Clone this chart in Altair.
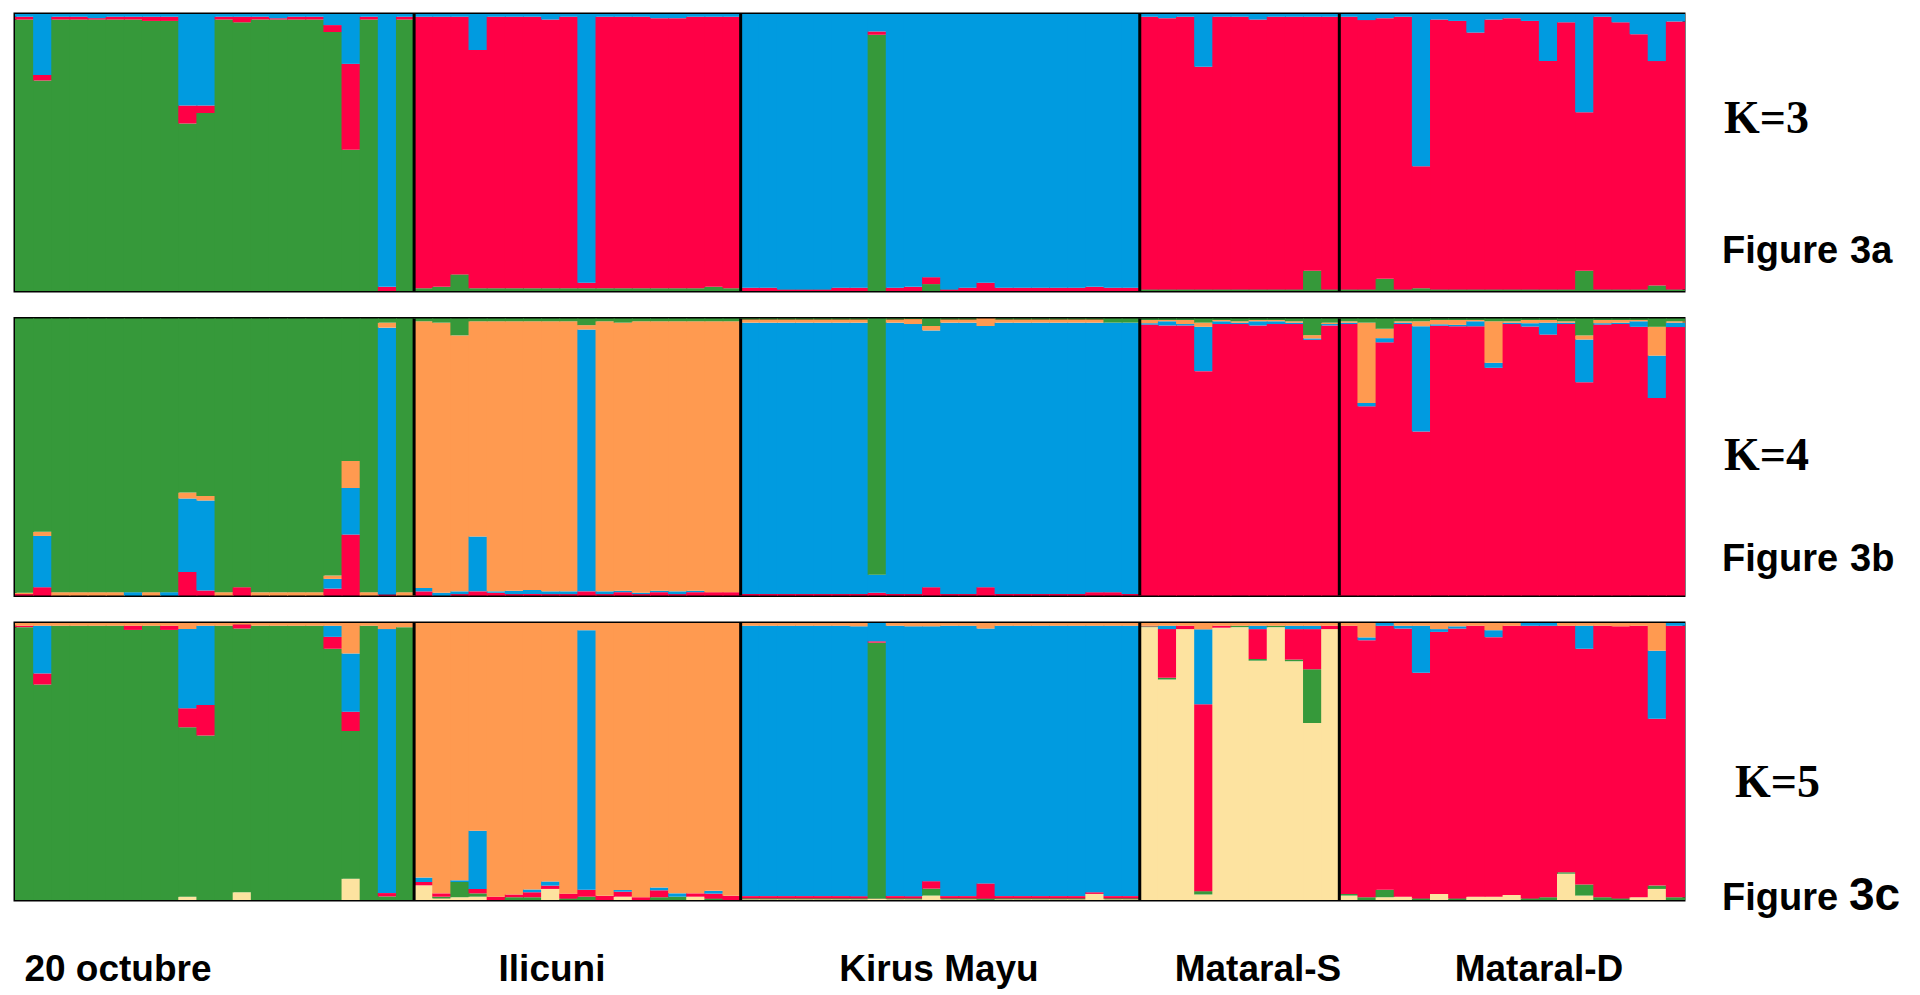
import altair as alt
import pandas as pd

# ---------------- data ----------------
POPULATIONS = ["20 octubre", "Ilicuni", "Kirus Mayu", "Mataral-S", "Mataral-D"]
POP_SIZES = [22, 18, 22, 11, 19]
K_LABELS = ["K=3", "K=4", "K=5"]
FIGURE_WORDS = ["Figure", "Figure", "Figure"]
FIGURE_TAGS = ["3a", "3b", "3c"]

# K = 3 (clusters listed bottom -> top)
K3_GREEN = [.98, .76, .98, .98, .98, .98, .98, .975, .975, .605, .643, .98, .97, .98, .98, .98, .98, .935, .51, .98, 0, .98,
            .01, .015, .06, .01, .01, .01, .01, .01, .01, .01, .01, .01, .01, .01, .01, .01, .015, .01,
            0, 0, 0, 0, 0, 0, 0, .925, 0, 0, .025, 0, 0, 0, 0, 0, 0, 0, 0, 0, 0, 0,
            .005, .005, .005, .005, .005, .005, .005, .005, .005, .073, .005,
            .005, .005, .044, .005, .01, .005, .005, .005, .005, .005, .005, .005, .005, .073, .005, .005, .005, .02, .005]
K3_RED = [.01, .02, .01, .01, .005, .01, .01, .015, .015, .065, .027, .01, .02, .01, .005, .01, .01, .025, .31, .01, .015, .01,
          .98, .975, .93, .86, .98, .98, .98, .97, .98, .02, .98, .98, .98, .975, .975, .98, .975, .98,
          .012, .012, .005, .005, .005, .012, .012, .012, .012, .015, .025, .005, .012, .03, .012, .012, .012, .012, .012, .015, .012, .012,
          .985, .98, .985, .805, .985, .985, .975, .985, .985, .917, .985,
          .985, .973, .941, .985, .44, .975, .97, .928, .975, .98, .97, .825, .965, .572, .985, .965, .922, .81, .968]
K3_BLUE = [.01, .22, .01, .01, .015, .01, .01, .01, .01, .33, .33, .01, .01, .01, .015, .01, .01, .04, .18, .01, .985, .01,
           .01, .01, .01, .13, .01, .01, .01, .02, .01, .97, .01, .01, .01, .015, .015, .01, .01, .01,
           .988, .988, .995, .995, .995, .988, .988, .063, .988, .985, .95, .995, .988, .97, .988, .988, .988, .988, .988, .985, .988, .988,
           .01, .015, .01, .19, .01, .01, .02, .01, .01, .01, .01,
           .01, .022, .015, .01, .55, .02, .025, .067, .02, .015, .025, .17, .03, .355, .01, .03, .073, .17, .027]

# K = 4
K4_RED = [.005, .03, 0, 0, 0, 0, 0, 0, 0, .085, .018, 0, .03, 0, 0, 0, 0, .025, .22, 0, .004, 0,
          .015, 0, .005, .015, .01, .005, .005, .005, .005, .015, .005, .012, .005, .012, .005, .012, .012, .012,
          .005, .005, .005, .005, .005, .005, .005, .01, .005, .005, .03, .005, .005, .03, .005, .005, .005, .005, .005, .012, .012, .005,
          .978, .975, .975, .81, .98, .98, .975, .98, .98, .923, .975,
          .98, .683, .914, .98, .592, .974, .972, .972, .822, .98, .971, .942, .98, .77, .978, .98, .97, .713, .969]
K4_BLUE = [0, .185, 0, 0, 0, 0, .012, 0, .012, .265, .325, 0, 0, 0, 0, 0, 0, .035, .168, 0, .963, 0,
           .012, .01, .01, .198, .005, .012, .015, .01, .01, .945, .01, .005, .005, .005, .01, .005, 0, 0,
           .98, .98, .98, .98, .98, .98, .98, .065, .98, .975, .927, .98, .98, .943, .98, .98, .98, .98, .98, .973, .973, .98,
           .005, .015, .005, .16, .01, .005, .015, .01, .005, .005, .005,
           .005, .012, .015, .005, .38, .005, .005, .018, .018, .005, .012, .043, .005, .154, .005, .005, .02, .153, .016]
K4_ORANGE = [.005, .015, .012, .012, .012, .012, 0, .012, 0, .022, .016, .012, 0, .012, .012, .012, .012, .012, .098, .012, .018, .012,
             .963, .975, .924, .777, .975, .973, .97, .975, .975, .016, .975, .968, .98, .973, .975, .973, .978, .978,
             .012, .012, .012, .012, .012, .012, .012, 0, .012, .018, .016, .012, .012, .027, .012, .012, .012, .012, .012, .012, 0, 0,
             .012, .005, .015, .015, .005, .005, .005, .005, .005, .012, .005,
             .005, .29, .034, .005, .018, .016, .018, .005, .15, .005, .012, .01, .005, .015, .012, .01, .005, .104, .005]
K4_GREEN = [.99, .77, .988, .988, .988, .988, .988, .988, .988, .628, .641, .988, .97, .988, .988, .988, .988, .928, .514, .988, .015, .988,
            .01, .015, .061, .01, .01, .01, .01, .01, .01, .024, .01, .015, .01, .01, .01, .01, .01, .01,
            .003, .003, .003, .003, .003, .003, .003, .925, .003, .002, .027, .003, .003, 0, .003, .003, .003, .003, .003, .003, .015, .015,
            .005, .005, .005, .015, .005, .01, .005, .005, .01, .06, .015,
            .01, .015, .037, .01, .01, .005, .005, .005, .01, .01, .005, .005, .01, .061, .005, .005, .005, .03, .01]

# K = 5
K5_YELLOW = [0, 0, 0, 0, 0, 0, 0, 0, 0, .012, 0, 0, .028, 0, 0, 0, 0, 0, .077, 0, 0, 0,
             .053, .006, .01, .012, 0, 0, 0, .04, 0, 0, 0, .012, 0, 0, 0, .012, 0, 0,
             .003, .003, .003, .003, .003, .003, .003, .005, .003, .003, .016, .003, .003, 0, .003, .003, .003, .003, .003, .022, .003, .003,
             .985, .796, .978, .02, .983, .985, .864, .985, .862, .639, .978,
             .016, 0, .01, .012, 0, .022, 0, .012, .012, .018, 0, 0, .095, .016, 0, 0, .01, .04, 0]
K5_GREEN = [.985, .778, .99, .99, .99, .99, .975, .99, .975, .612, .594, .99, .952, .99, .99, .99, .99, .907, .533, .99, .013, .985,
            0, .006, .055, .012, 0, .01, .01, 0, .005, .012, 0, 0, 0, .01, .012, 0, .005, 0,
            .003, .003, .003, .003, .003, .003, .003, .924, .003, .003, .025, .003, .003, .005, .003, .003, .003, .003, .003, 0, .003, .003,
            .003, .006, 0, .012, 0, .005, .006, .005, .006, .194, 0,
            .006, .01, .027, 0, .005, 0, .005, 0, 0, 0, .005, .01, .005, .04, .01, .005, 0, .012, .01]
K5_RED = [.005, .04, 0, 0, 0, 0, .015, 0, .015, .068, .11, 0, .015, 0, 0, 0, 0, .043, .07, 0, .012, 0,
          .012, .012, 0, .016, .012, .01, .018, .012, .018, .025, .015, .018, .01, .025, 0, .012, .018, .015,
          .008, .008, .008, .008, .008, .008, .008, .005, .008, .008, .027, .008, .008, .055, .008, .008, .008, .008, .008, .006, .008, .008,
          .002, .176, .012, .675, .007, 0, .108, 0, .11, .145, .012,
          .968, .928, .953, .968, .815, .946, .975, .978, .937, .972, .985, .98, .89, .851, .98, .983, .98, .602, .98]
K5_BLUE = [0, .172, 0, 0, 0, 0, 0, 0, 0, .286, .286, 0, 0, 0, 0, 0, 0, .04, .21, 0, .953, 0,
           .016, 0, .006, .21, 0, 0, .01, .015, 0, .937, 0, .006, 0, .01, .012, 0, .01, 0,
           .976, .976, .976, .976, .976, .976, .976, .066, .976, .976, .92, .976, .976, .92, .976, .976, .976, .976, .976, .962, .976, .976,
           0, .012, 0, .27, 0, 0, .012, 0, .012, .012, 0,
           0, .01, .01, .01, .17, .01, .008, 0, .025, 0, .01, .01, 0, .083, 0, 0, 0, .246, .01]
K5_ORANGE = [.01, .01, .01, .01, .01, .01, .01, .01, .01, .022, .01, .01, .005, .01, .01, .01, .01, .01, .11, .01, .022, .015,
             .919, .976, .929, .75, .988, .98, .962, .933, .977, .026, .985, .964, .99, .955, .976, .976, .967, .985,
             .01, .01, .01, .01, .01, .01, .012, 0, .01, .012, .012, .01, .01, .02, .01, .01, .01, .01, .01, .01, .01, .01,
             .01, .01, .01, .023, .01, .01, .01, .01, .01, .01, .01,
             .01, .052, 0, .01, .01, .022, .012, .01, .026, .01, 0, 0, .01, .01, .01, .012, .01, .1, 0]

PANELS = [
    [("green", K3_GREEN), ("red", K3_RED), ("blue", K3_BLUE)],
    [("red", K4_RED), ("blue", K4_BLUE), ("orange", K4_ORANGE), ("green", K4_GREEN)],
    [("yellow", K5_YELLOW), ("green", K5_GREEN), ("red", K5_RED), ("blue", K5_BLUE), ("orange", K5_ORANGE)],
]

# ---------------- styles ----------------
COLORS = {"green": "#36993a", "red": "#ff0046", "blue": "#009be0",
          "orange": "#ff9a50", "yellow": "#fde3a0"}
W, H = 1669, 277
N = sum(POP_SIZES)
for panel in PANELS:
    for _, vals in panel:
        assert len(vals) == N, len(vals)

boundaries = []
acc = 0
for s in POP_SIZES[:-1]:
    acc += s
    boundaries.append(acc)


def panel_table(panel):
    rows = []
    for i in range(N):
        total = sum(v[i] for _, v in panel)
        y = 0.0
        for name, vals in panel:
            q = vals[i] / total
            if q > 0:
                rows.append({"ind": i, "ind1": i + 1, "cluster": name, "y0": y, "y1": y + q})
            y += q
    return pd.DataFrame(rows)


xs = alt.Scale(domain=[0, N], nice=False, zero=False)
ys = alt.Scale(domain=[0, 1], nice=False, zero=False)
cscale = alt.Scale(domain=list(COLORS.keys()), range=list(COLORS.values()))

K_POS = [(1709, 105), (1709, 137), (1720, 160)]
FIG_POS = [(1707, 238), (1707, 241), (1707, 276)]
TAG_POS = [(1835, 238), (1835, 241), (1834, 273)]
TAG_SIZE = [38, 38, 46]
POP_X = [103, 537, 924, 1243, 1524]
POP_Y = 347


def text_layer(txt, x, y, font, size, align="left"):
    return alt.Chart(pd.DataFrame({"t": [txt]})).mark_text(
        font=font, fontWeight="bold", fontSize=size, align=align,
        baseline="middle", color="black"
    ).encode(text="t:N", x=alt.value(x), y=alt.value(y))


rows = []
for j, panel in enumerate(PANELS):
    df = panel_table(panel)
    bars = alt.Chart(df).mark_rect(x2Offset=1).encode(
        x=alt.X("ind:Q", scale=xs, axis=None),
        x2="ind1:Q",
        y=alt.Y("y0:Q", scale=ys, axis=None),
        y2="y1:Q",
        color=alt.Color("cluster:N", scale=cscale, legend=None),
    )
    seps = alt.Chart(pd.DataFrame({"b": boundaries})).mark_rule(
        color="black", strokeWidth=3
    ).encode(x=alt.X("b:Q", scale=xs, axis=None))
    layers = [bars, seps,
              text_layer(K_LABELS[j], K_POS[j][0], K_POS[j][1], "Liberation Serif", 46),
              text_layer(FIGURE_WORDS[j], FIG_POS[j][0], FIG_POS[j][1], "Liberation Sans", 38),
              text_layer(FIGURE_TAGS[j], TAG_POS[j][0], TAG_POS[j][1], "Liberation Sans", TAG_SIZE[j])]
    if j == len(PANELS) - 1:
        for name, px in zip(POPULATIONS, POP_X):
            layers.append(text_layer(name, px, POP_Y, "Liberation Sans", 37, align="center"))
    rows.append(alt.layer(*layers).properties(width=W, height=H))

chart = alt.vconcat(*rows, spacing=21.5).configure_view(
    stroke="black", strokeWidth=3
).properties(background="white", padding={"left": 5, "right": 5, "top": 3, "bottom": 0})

chart.save("out.html", embed_options={"renderer": "svg", "actions": False})
